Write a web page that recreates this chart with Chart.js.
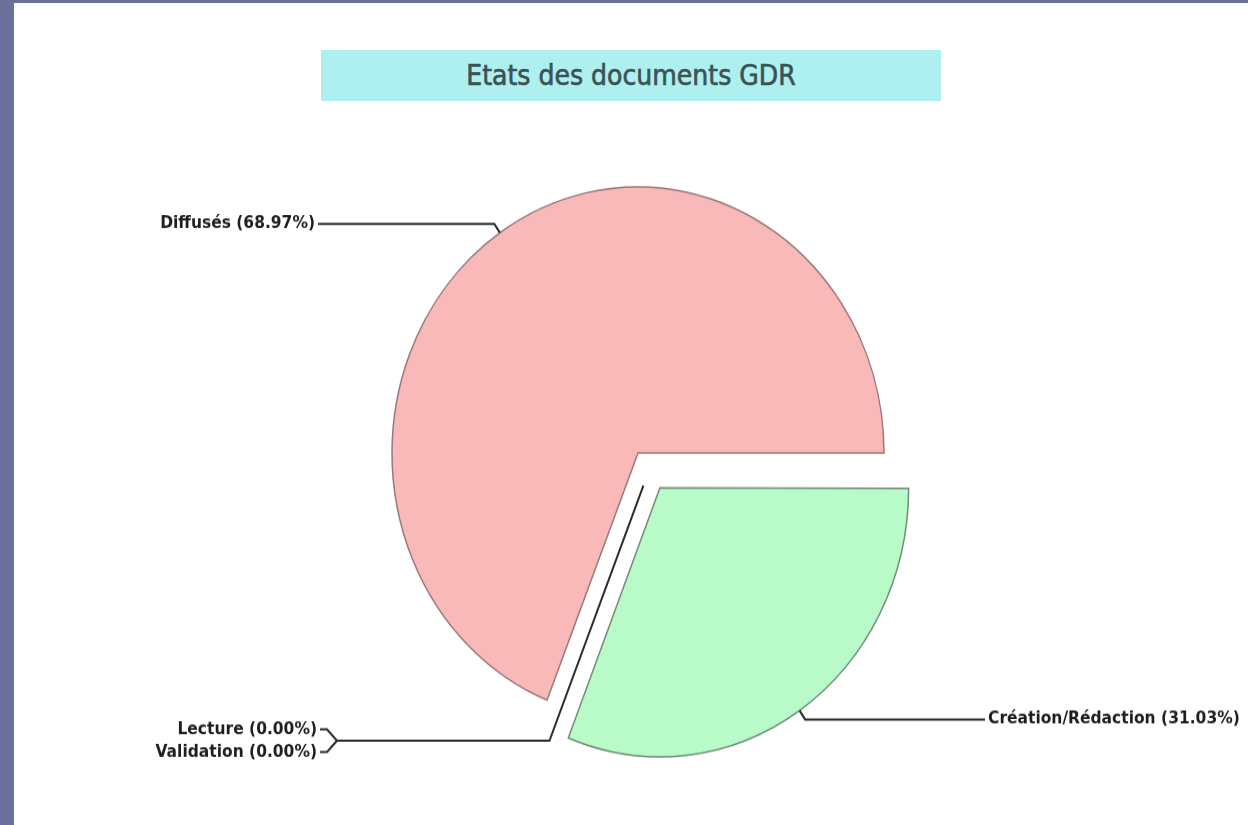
<!DOCTYPE html>
<html>
<head>
<meta charset="utf-8">
<title>Etats des documents GDR</title>
<script src="https://cdn.jsdelivr.net/npm/chart.js@4.4.0/dist/chart.umd.min.js"></script>
<style>
  html, body { margin: 0; padding: 0; background: #fff; }
  #page {
    position: relative;
    width: 1234px;
    height: 822px;
    border-left: 14px solid #6a7099;
    border-top: 3px solid #6a7099;
    background: #fff;
    overflow: hidden;
  }
  #titre {
    position: absolute;
    left: 307px;
    top: 47px;
    width: 620px;
    height: 51px;
    background: #aeeff0;
    color: #3b5353;
    font: 28px "Liberation Sans Narrow", "DejaVu Sans Condensed", sans-serif;
    -webkit-text-stroke: 0.6px #3b5353;
    text-align: center;
    line-height: 51px;
  }
  /* the pie is drawn round and stretched a little in height */
  #wrap {
    position: absolute;
    left: 0;
    top: 0;
    width: 1234px;
    height: 760px;
    transform: scaleY(1.0816);
    transform-origin: 0 0;
  }
</style>
</head>
<body>
<div id="page">
  <div id="wrap"><canvas id="etats" width="1234" height="760"></canvas></div>
  <div id="titre">Etats des documents GDR</div>
</div>
<script>
// ordre des parts : dans le sens horaire en partant de 3 heures
const etats = ['Création/Rédaction', 'Lecture', 'Validation', 'Diffusés'];
const pourcentages = [31.03, 0, 0, 68.97];
const couleurs = ['#b9fac9', '#ffffff', '#ffffff', '#f9b9b9'];
const bordures = ['#6f8c76', '#555555', '#555555', '#9a7878'];
const eclatement = [156, 0, 0, 0];

// colonnes des étiquettes
const colGauche = 304;
const colDroite = 971;
const pointeAccolade = 323;

function texteEtiquette(i, total) {
    return etats[i] + ' (' + (pourcentages[i] / total * 100).toFixed(2) + '%)';
}

// décalage d'une part éclatée, calculé comme ArcElement.draw
function decalage(arc) {
    const off = (arc.options.offset || 0) / 4;
    const mid = (arc.startAngle + arc.endAngle) / 2;
    return { dx: Math.cos(mid) * off, dy: Math.sin(mid) * off, off: off };
}

const etiquettes = {
    id: 'etiquettes',
    afterDraw(chart) {
        const ctx = chart.ctx;
        const arcs = chart.getDatasetMeta(0).data;
        const total = pourcentages.reduce((a, b) => a + b, 0);

        ctx.save();
        ctx.font = 'bold 15.5px "DejaVu Sans"';
        ctx.fillStyle = '#1e1e1e';
        ctx.strokeStyle = '#2b2b2b';
        ctx.lineWidth = 2;
        ctx.textBaseline = 'middle';

        let vides = [];
        arcs.forEach((arc, i) => {
            if (pourcentages[i] === 0) {
                vides.push(i);
                return;
            }
            const s = decalage(arc);
            const mid = (arc.startAngle + arc.endAngle) / 2;
            const fix = 1 - Math.sin(Math.min(Math.PI, arc.circumference));
            const r = arc.outerRadius + s.off * fix;
            const cx = arc.x + s.dx, cy = arc.y + s.dy;
            const x0 = cx + Math.cos(mid) * r, y0 = cy + Math.sin(mid) * r;
            const x1 = cx + Math.cos(mid) * (r + 10), y1 = cy + Math.sin(mid) * (r + 10);
            const gauche = Math.cos(mid) < 0;
            const xFin = gauche ? colGauche : colDroite;

            ctx.beginPath();
            ctx.moveTo(x0, y0);
            ctx.lineTo(x1, y1);
            ctx.lineTo(xFin, y1);
            ctx.stroke();

            ctx.textAlign = gauche ? 'right' : 'left';
            ctx.fillText(texteEtiquette(i, total), gauche ? xFin - 3 : xFin + 3, y1);
        });

        if (vides.length) {
            // les parts vides : un trait au milieu de l'écart laissé par la part éclatée
            const arc = arcs[vides[0]];
            const a = arc.startAngle;
            const ux = Math.cos(a), uy = Math.sin(a);
            const nx = -Math.sin(a), ny = Math.cos(a);
            const g = decalage(arcs[0]);
            const gu = g.dx * ux + g.dy * uy;
            const gn = g.dx * nx + g.dy * ny;
            const bx = arc.x + gu * ux + gn / 2 * nx;
            const by = arc.y + gu * uy + gn / 2 * ny;
            const xa = bx + ux * 4, ya = by + uy * 4;
            const xb = bx + ux * (arc.outerRadius + 12), yb = by + uy * (arc.outerRadius + 12);

            ctx.beginPath();
            ctx.moveTo(xa, ya);
            ctx.lineTo(xb, yb);
            ctx.lineTo(pointeAccolade, yb);
            ctx.stroke();

            const pas = 21;
            ctx.textAlign = 'right';
            vides.forEach((i, k) => {
                const ty = yb + (k - (vides.length - 1) / 2) * pas;
                ctx.beginPath();
                ctx.moveTo(pointeAccolade, yb);
                ctx.lineTo(pointeAccolade - 10, ty);
                ctx.lineTo(pointeAccolade - 17, ty);
                ctx.stroke();
                ctx.fillText(texteEtiquette(i, total), pointeAccolade - 20, ty);
            });
        }
        ctx.restore();
    }
};

new Chart(document.getElementById('etats'), {
    type: 'pie',
    data: {
        labels: etats,
        datasets: [{
            data: pourcentages,
            backgroundColor: couleurs,
            borderColor: bordures,
            borderWidth: 1.5,
            borderJoinStyle: 'miter',
            offset: eclatement,
            radius: 246,
            rotation: 90
        }]
    },
    options: {
        responsive: false,
        animation: false,
        events: [],
        layout: { padding: { left: 14, right: 0, top: 72, bottom: 0 } },
        plugins: {
            legend: { display: false },
            tooltip: { enabled: false }
        }
    },
    plugins: [etiquettes]
});
</script>
</body>
</html>
